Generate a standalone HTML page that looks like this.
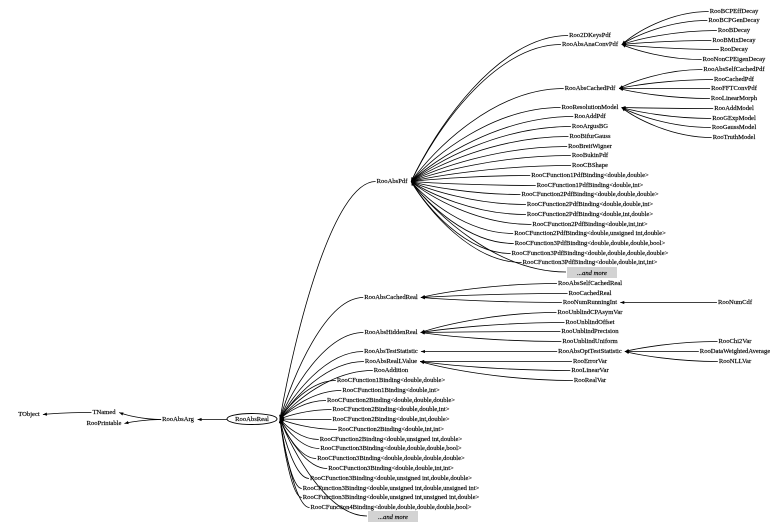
<!DOCTYPE html>
<html><head><meta charset="utf-8"><style>
html,body{margin:0;padding:0;background:#fff;width:779px;height:529px;overflow:hidden}
svg text{font-family:"Liberation Serif",serif;font-size:6.6px;fill:#000;text-anchor:middle;stroke:#000;stroke-width:0.15}
</style></head><body>
<svg id="s" width="779" height="529" viewBox="0 0 779 529" xmlns="http://www.w3.org/2000/svg">
<g id="edges" fill="none" stroke="#000" stroke-width="0.8"></g>
<rect x="567" y="267" width="50" height="11" fill="#d3d3d3"/>
<rect x="368" y="511" width="50" height="11" fill="#d3d3d3"/>
<ellipse cx="252" cy="419" rx="25" ry="5.5" fill="#fff" stroke="#000" stroke-width="0.9"/>
<g id="t">
<text id="n0" x="29" y="416">TObject</text>
<text id="n1" x="104" y="414">TNamed</text>
<text id="n2" x="104" y="425">RooPrintable</text>
<text id="n3" x="178" y="421">RooAbsArg</text>
<text id="n4" x="252" y="421">RooAbsReal</text>
<text id="a0" x="392" y="183">RooAbsPdf</text>
<text id="a1" x="391" y="299">RooAbsCachedReal</text>
<text id="a2" x="391" y="334">RooAbsHiddenReal</text>
<text id="a3" x="391" y="353">RooAbsTestStatistic</text>
<text id="a4" x="391" y="363">RooAbsRealLValue</text>
<text id="a5" x="391" y="372">RooAddition</text>
<text id="b0" x="391" y="382">RooCFunction1Binding&lt;double,double&gt;</text>
<text id="b1" x="391" y="392">RooCFunction1Binding&lt;double,int&gt;</text>
<text id="b2" x="391" y="402">RooCFunction2Binding&lt;double,double,double&gt;</text>
<text id="b3" x="391" y="411">RooCFunction2Binding&lt;double,double,int&gt;</text>
<text id="b4" x="391" y="421">RooCFunction2Binding&lt;double,int,double&gt;</text>
<text id="b5" x="391" y="431">RooCFunction2Binding&lt;double,int,int&gt;</text>
<text id="b6" x="391" y="441">RooCFunction2Binding&lt;double,unsigned int,double&gt;</text>
<text id="b7" x="391" y="450">RooCFunction3Binding&lt;double,double,double,bool&gt;</text>
<text id="b8" x="391" y="460">RooCFunction3Binding&lt;double,double,double,double&gt;</text>
<text id="b9" x="391" y="470">RooCFunction3Binding&lt;double,double,int,int&gt;</text>
<text id="b10" x="391" y="480">RooCFunction3Binding&lt;double,unsigned int,double,double&gt;</text>
<text id="b11" x="391" y="490">RooCFunction3Binding&lt;double,unsigned int,double,unsigned int&gt;</text>
<text id="b12" x="391" y="499">RooCFunction3Binding&lt;double,unsigned int,unsigned int,double&gt;</text>
<text id="b13" x="391" y="509">RooCFunction4Binding&lt;double,double,double,double,bool&gt;</text>
<text id="b14" x="393" y="519" font-style="italic">...and more</text>
<text id="c0" x="590" y="37">Roo2DKeysPdf</text>
<text id="c1" x="590" y="46">RooAbsAnaConvPdf</text>
<text id="c2" x="590" y="90">RooAbsCachedPdf</text>
<text id="c3" x="590" y="109">RooResolutionModel</text>
<text id="c4" x="590" y="118">RooAddPdf</text>
<text id="c5" x="590" y="128">RooArgusBG</text>
<text id="c6" x="590" y="138">RooBifurGauss</text>
<text id="c7" x="590" y="148">RooBreitWigner</text>
<text id="c8" x="590" y="157">RooBukinPdf</text>
<text id="c9" x="590" y="167">RooCBShape</text>
<text id="c10" x="590" y="177">RooCFunction1PdfBinding&lt;double,double&gt;</text>
<text id="c11" x="590" y="187">RooCFunction1PdfBinding&lt;double,int&gt;</text>
<text id="c12" x="590" y="196">RooCFunction2PdfBinding&lt;double,double,double&gt;</text>
<text id="c13" x="590" y="206">RooCFunction2PdfBinding&lt;double,double,int&gt;</text>
<text id="c14" x="590" y="216">RooCFunction2PdfBinding&lt;double,int,double&gt;</text>
<text id="c15" x="590" y="226">RooCFunction2PdfBinding&lt;double,int,int&gt;</text>
<text id="c16" x="590" y="235">RooCFunction2PdfBinding&lt;double,unsigned int,double&gt;</text>
<text id="c17" x="590" y="245">RooCFunction3PdfBinding&lt;double,double,double,bool&gt;</text>
<text id="c18" x="590" y="255">RooCFunction3PdfBinding&lt;double,double,double,double&gt;</text>
<text id="c19" x="590" y="264">RooCFunction3PdfBinding&lt;double,double,int,int&gt;</text>
<text id="c20" x="592" y="275" font-style="italic">...and more</text>
<text id="d0" x="590" y="285">RooAbsSelfCachedReal</text>
<text id="d1" x="590" y="295">RooCachedReal</text>
<text id="d2" x="590" y="304">RooNumRunningInt</text>
<text id="d3" x="590" y="314">RooUnblindCPAsymVar</text>
<text id="d4" x="590" y="324">RooUnblindOffset</text>
<text id="d5" x="590" y="333">RooUnblindPrecision</text>
<text id="d6" x="590" y="343">RooUnblindUniform</text>
<text id="d7" x="590" y="353">RooAbsOptTestStatistic</text>
<text id="d8" x="590" y="363">RooErrorVar</text>
<text id="d9" x="590" y="372">RooLinearVar</text>
<text id="d10" x="590" y="382">RooRealVar</text>
<text id="e0" x="734" y="13">RooBCPEffDecay</text>
<text id="e1" x="734" y="22">RooBCPGenDecay</text>
<text id="e2" x="734" y="32">RooBDecay</text>
<text id="e3" x="734" y="42">RooBMixDecay</text>
<text id="e4" x="734" y="51">RooDecay</text>
<text id="e5" x="734" y="61">RooNonCPEigenDecay</text>
<text id="e6" x="734" y="71">RooAbsSelfCachedPdf</text>
<text id="e7" x="734" y="81">RooCachedPdf</text>
<text id="e8" x="734" y="90">RooFFTConvPdf</text>
<text id="e9" x="734" y="100">RooLinearMorph</text>
<text id="e10" x="734" y="110">RooAddModel</text>
<text id="e11" x="734" y="120">RooGExpModel</text>
<text id="e12" x="734" y="129">RooGaussModel</text>
<text id="e13" x="734" y="139">RooTruthModel</text>
<text id="f0" x="735" y="304">RooNumCdf</text>
<text id="f1" x="735" y="343">RooChi2Var</text>
<text id="f2" x="735" y="353">RooDataWeightedAverage</text>
<text id="f3" x="735" y="363">RooNLLVar</text>
</g>
</svg>
<script>
(function(){
var E=[['n1','n0'],['n3','n1'],['n3','n2'],['n4','n3']];
var i;
['a0','a1','a2','a3','a4','a5'].forEach(function(a){E.push([a,'n4']);});
for(i=0;i<15;i++)E.push(['b'+i,'n4']);
for(i=0;i<21;i++)E.push(['c'+i,'a0']);
E.push(['d0','a1'],['d1','a1'],['d2','a1'],['d3','a2'],['d4','a2'],['d5','a2'],['d6','a2'],['d7','a3'],['d8','a4'],['d9','a4'],['d10','a4']);
for(i=0;i<6;i++)E.push(['e'+i,'c1']);
for(i=6;i<10;i++)E.push(['e'+i,'c2']);
for(i=10;i<14;i++)E.push(['e'+i,'c3']);
E.push(['f0','d2'],['f1','d7'],['f2','d7'],['f3','d7']);
var g=document.getElementById('edges'),out='';
function bb(id){var el=document.getElementById(id);var b=el.getBBox();return {l:b.x,r:b.x+b.width,y:b.y+b.height/2};}
E.forEach(function(e){
 var c=bb(e[0]),p;
 if(e[1]=='n4'){p={r:277,y:419};}else p=bb(e[1]);
 if(e[0]=='b14'){c={l:368,y:516};}
 if(e[0]=='c20'){c={l:567,y:272};}
 var sx=c.l-1,sy=c.y,ex=p.r+3,ey=p.y,dx=sx-ex,dy=sy-ey;
 out+='<path d="M'+sx+','+sy+' C'+(sx-dx*0.45)+','+sy+' '+(ex+dx*0.15)+','+(ey+dy*0.35)+' '+ex+','+ey+'"/>';
 var ang=Math.atan2(dy*0.35,dx*0.15),L=4,w=1.6,ca=Math.cos(ang),sa=Math.sin(ang);
 var bx=ex+L*ca,by=ey+L*sa;
 out+='<polygon fill="#000" stroke="none" points="'+ex+','+ey+' '+(bx-w*sa)+','+(by+w*ca)+' '+(bx+w*sa)+','+(by-w*ca)+'"/>';
});
g.innerHTML=out;
})();
</script>
</body></html>
